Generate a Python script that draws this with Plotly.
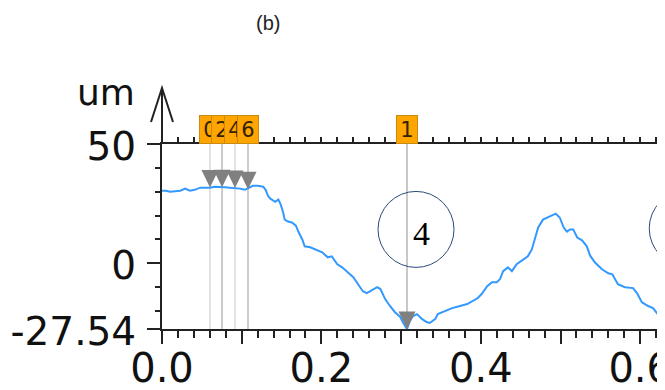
import plotly.graph_objects as go

# ---- data ----
profile_x = [0.000, 0.005, 0.010, 0.016, 0.023, 0.029, 0.035, 0.041, 0.048, 0.054,
             0.060, 0.066, 0.073, 0.079, 0.085, 0.092, 0.098, 0.104, 0.110, 0.114,
             0.120, 0.127, 0.130, 0.133, 0.136, 0.139, 0.142, 0.146, 0.149, 0.152,
             0.154, 0.158, 0.163, 0.168, 0.171, 0.176, 0.179, 0.186, 0.192, 0.201,
             0.208, 0.213, 0.220, 0.226, 0.233, 0.240, 0.246, 0.252, 0.257, 0.263,
             0.270, 0.274, 0.280, 0.286, 0.292, 0.299, 0.302, 0.3074, 0.311, 0.315,
             0.320, 0.326, 0.332, 0.336, 0.343, 0.346, 0.355, 0.364, 0.374, 0.383,
             0.390, 0.396, 0.401, 0.408, 0.414, 0.420, 0.424, 0.428, 0.434, 0.439,
             0.445, 0.452, 0.459, 0.464, 0.468, 0.472, 0.478, 0.484, 0.491, 0.494,
             0.499, 0.504, 0.508, 0.512, 0.516, 0.521, 0.527, 0.533, 0.537, 0.543,
             0.552, 0.560, 0.565, 0.572, 0.581, 0.587, 0.591, 0.596, 0.602, 0.610,
             0.616, 0.622, 0.629, 0.635]
profile_um = [30.4, 30.4, 30.0, 30.2, 30.4, 31.3, 30.4, 30.8, 31.7, 31.7,
              31.7, 32.1, 32.1, 31.9, 31.7, 31.5, 31.3, 30.8, 31.7, 32.5,
              32.5, 32.1, 30.8, 28.3, 27.1, 26.3, 25.8, 26.7, 24.6, 21.3,
              18.3, 17.5, 17.1, 15.8, 13.3, 10.0, 7.1, 6.7, 5.8, 4.6,
              2.5, 2.9, -0.4, -1.7, -3.8, -5.8, -8.8, -11.7, -12.5, -11.3,
              -10.0, -10.8, -15.0, -17.9, -20.4, -22.5, -24.6, -27.54, -24.2, -22.1,
              -21.3, -23.3, -24.6, -25.0, -23.3, -21.3, -20.0, -18.8, -17.9, -17.1,
              -15.8, -14.6, -12.9, -9.6, -7.9, -7.9, -6.7, -3.3, -1.7, -3.3,
              -0.4, 1.3, 2.9, 5.8, 10.8, 15.0, 18.3, 19.2, 20.4, 20.8,
              19.2, 15.0, 13.3, 14.2, 14.2, 10.8, 9.6, 7.1, 3.3, 0.4,
              -2.5, -4.2, -4.6, -8.8, -10.0, -10.4, -10.4, -12.5, -16.3, -17.9,
              -18.8, -21.3, -24.6, -26.8]

marker_labels = ["0", "2", "4", "6", "1"]
marker_x = [0.0602, 0.0753, 0.0916, 0.1079, 0.3074]
marker_um = [31.8, 31.9, 31.6, 31.0, -27.54]

circle_labels = ["4", ""]
circle_x = [0.3187, 0.659]
circle_um = [14.2, 14.6]

y_tickvals = [50, 0, -27.54]
y_ticktext = ["50", "0", "-27.54"]
y_minorvals = [40, 30, 20, 10, -10, -20]
x_tickvals = [0.0, 0.1, 0.2, 0.3, 0.4, 0.5, 0.6]
x_ticktext = ["0.0", "", "0.2", "", "0.4", "", "0.6"]
y_unit = "um"
panel_title = "(b)"

AX = "#222222"
XTICKFONT = dict(family="DejaVu Sans", size=40, color="#111111")
YTICKFONT = dict(family="DejaVu Sans", size=39, color="#111111")

fig = go.Figure()
fig.add_trace(go.Scatter(x=profile_x, y=profile_um, mode="lines",
                         line=dict(color="#3399ff", width=2),
                         hoverinfo="skip", showlegend=False))
# empty trace so the top (mirror) axis gets drawn
fig.add_trace(go.Scatter(x=[], y=[], xaxis="x2", yaxis="y", mode="lines",
                         hoverinfo="skip", showlegend=False))

shapes = []
annotations = []
line_colors = ["#c8c8c8", "#999999", "#c8c8c8", "#999999", "#c8c8c8"]
line_widths = [1, 1, 1, 1, 2]
for i, (mx, my) in enumerate(zip(marker_x, marker_um)):
    shapes.append(dict(type="line", xref="x", yref="paper", x0=mx, x1=mx, y0=0, y1=1,
                       line=dict(color=line_colors[i], width=line_widths[i]), layer="below"))
for mx, my in zip(marker_x, marker_um):
    shapes.append(dict(type="path", xref="x", yref="y", xsizemode="pixel", ysizemode="pixel",
                       xanchor=mx, yanchor=my, path="M-8.5,17.5 L8.5,17.5 L0,0 Z",
                       fillcolor="#808080", line=dict(width=0), layer="above"))
for lab, mx in zip(marker_labels, marker_x):
    annotations.append(dict(x=mx, xref="x", y=1, yref="paper", xanchor="center",
                            yanchor="bottom", text=lab, showarrow=False,
                            width=20, height=27, borderpad=0, borderwidth=1,
                            bgcolor="#ffa500", bordercolor="#c88a10",
                            font=dict(family="DejaVu Sans", size=21, color="#332200")))
for lab, cx, cy in zip(circle_labels, circle_x, circle_um):
    shapes.append(dict(type="circle", xref="x", yref="y", xsizemode="pixel", ysizemode="pixel",
                       xanchor=cx, yanchor=cy, x0=-38, x1=38, y0=-38, y1=38,
                       line=dict(color="#2a4a7a", width=1), layer="above"))
    annotations.append(dict(x=cx, xref="x", y=cy, yref="y", text=lab, showarrow=False,
                            xshift=5, yshift=-4,
                            font=dict(family="Liberation Serif, DejaVu Serif, serif",
                                      size=34, color="#000000")))

# y-axis arrow extension
shapes.append(dict(type="path", xref="paper", yref="paper", xsizemode="pixel", ysizemode="pixel",
                   xanchor=0, yanchor=1, path="M0,0 L0,56 M-11,22 L0,56 L11,22",
                   line=dict(color=AX, width=2)))
annotations.append(dict(x=0, xref="paper", y=1, yref="paper", xanchor="right", yanchor="middle",
                        xshift=-25, yshift=52, text=y_unit, showarrow=False,
                        font=dict(family="DejaVu Sans", size=36, color="#111111")))
annotations.append(dict(x=(268 - 162) / 503, xref="paper", y=1 + (144 - 23) / 185, yref="paper",
                        xanchor="center", yanchor="middle", text=panel_title, showarrow=False,
                        font=dict(family="Liberation Sans", size=20, color="#222222")))

fig.update_layout(
    template="none",
    width=665, height=390,
    margin=dict(l=154, r=8, t=136, b=69, pad=0),
    paper_bgcolor="white", plot_bgcolor="white",
    xaxis=dict(range=[0, 0.6311], automargin=False, showgrid=False, zeroline=False,
               showline=True, linecolor=AX, linewidth=2, ticks="outside", ticklen=13,
               tickwidth=2, tickcolor=AX, tickmode="array", tickvals=x_tickvals,
               ticktext=x_ticktext, tickfont=XTICKFONT, ticklabeloverflow="allow",
               ticklabelstandoff=-10,
               minor=dict(dtick=0.02, tick0=0, ticks="outside", ticklen=7, tickwidth=1.5,
                          tickcolor=AX, showgrid=False)),
    xaxis2=dict(overlaying="x", matches="x", side="top", anchor="y", automargin=False,
                showgrid=False, zeroline=False, showline=True, linecolor=AX, linewidth=2,
                ticks="outside", ticklen=5, tickwidth=1.5, tickcolor=AX,
                tickmode="linear", tick0=0, dtick=0.02, showticklabels=False),
    yaxis=dict(range=[-27.54, 50], automargin=False, showgrid=False, zeroline=False,
               showline=True, linecolor=AX, linewidth=2, ticks="outside", ticklen=13,
               tickwidth=2, tickcolor=AX, tickmode="array", tickvals=y_tickvals,
               ticktext=y_ticktext, tickfont=YTICKFONT, ticklabeloverflow="allow",
               ticklabelstandoff=3, ticklabelshift=2,
               minor=dict(tickmode="array", tickvals=y_minorvals, ticks="outside",
                          ticklen=5, tickwidth=1.5, tickcolor=AX, showgrid=False)),
    shapes=shapes, annotations=annotations, showlegend=False,
)

fig.write_html("out.html")
